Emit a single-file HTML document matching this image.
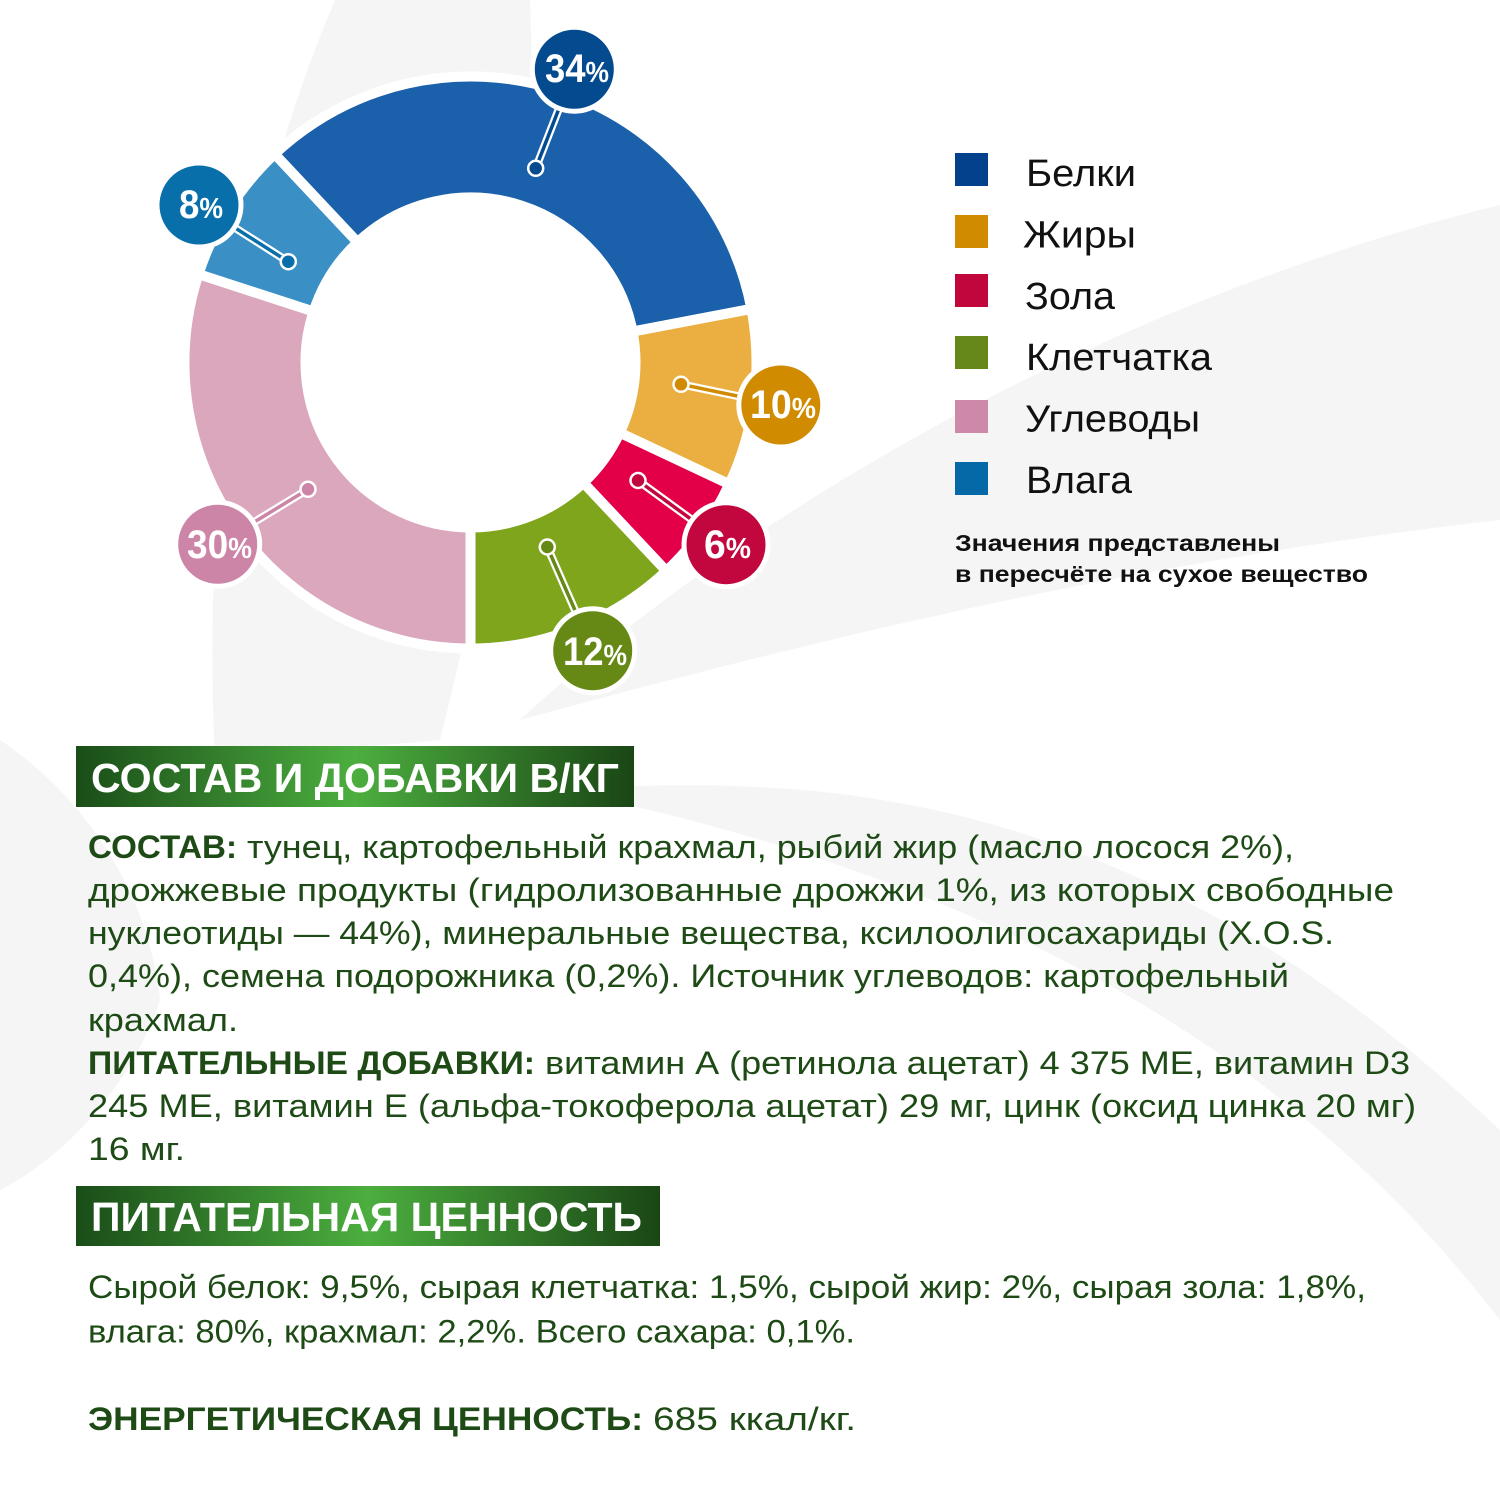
<!DOCTYPE html>
<html><head><meta charset="utf-8"><style>
html,body{margin:0;padding:0;background:#fff;}
svg{display:block;}
text{font-family:"Liberation Sans","Noto Sans CJK SC",sans-serif;}
</style></head><body>
<svg width="1500" height="1500" viewBox="0 0 1500 1500" xmlns="http://www.w3.org/2000/svg">
<defs>
<linearGradient id="hg" x1="0" y1="0" x2="1" y2="0">
<stop offset="0" stop-color="#1a4d18"/><stop offset="0.5" stop-color="#4cae3f"/><stop offset="1" stop-color="#1a4615"/>
</linearGradient>
</defs>
<rect width="1500" height="1500" fill="#fff"/>
<!-- background leaves -->
<g fill="#f5f5f5">
<path d="M335 0 L530 0 C540 250 500 500 440 740 L215 760 C200 450 250 200 335 0 Z"/>
<path d="M0 740 C90 800 150 900 160 1000 C130 1090 60 1160 0 1190 Z"/>
<path d="M520 720 C780 480 1150 290 1500 205 L1500 520 C1150 560 850 630 520 720 Z"/>
<path d="M560 790 C850 770 1150 800 1500 1130 L1500 1320 C1300 1060 1000 880 560 790 Z"/>
</g>
<!-- donut halo -->
<circle cx="470.5" cy="362.5" r="291" fill="#fff"/>
<g stroke="#fff" stroke-width="10" stroke-linejoin="miter">
<path fill="#dba7bd" d="M470.5 648.5 A286 286 0 0 1 198.5 274.1 L313.57 311.51 A165 165 0 0 0 470.5 527.5 Z"/>
<path fill="#3a90c5" d="M198.5 274.1 A286 286 0 0 1 274.72 154.01 L357.55 242.22 A165 165 0 0 0 313.57 311.51 Z"/>
<path fill="#1a60aa" d="M274.72 154.01 A286 286 0 0 1 751.43 308.91 L632.58 331.58 A165 165 0 0 0 357.55 242.22 Z"/>
<path fill="#eaae41" d="M751.43 308.91 A286 286 0 0 1 729.28 484.27 L619.8 432.75 A165 165 0 0 0 632.58 331.58 Z"/>
<path fill="#e30048" d="M729.28 484.27 A286 286 0 0 1 666.28 570.99 L583.45 482.78 A165 165 0 0 0 619.8 432.75 Z"/>
<path fill="#7fa51c" d="M666.28 570.99 A286 286 0 0 1 470.5 648.5 L470.5 527.5 A165 165 0 0 0 583.45 482.78 Z"/>
</g>
<!-- connectors -->
<g stroke="#fff" stroke-width="8" stroke-linecap="round">
<line x1="535.7" y1="168.3" x2="574.3" y2="69.3"/>
<line x1="288.3" y1="261.7" x2="199" y2="205"/>
<line x1="681" y1="384.3" x2="780.8" y2="405"/>
<line x1="638" y1="480.5" x2="726" y2="544.7"/>
<line x1="308" y1="489.3" x2="217.7" y2="544.3"/>
<line x1="547.3" y1="547" x2="592.7" y2="650.7"/>
</g>
<g stroke-width="3.5">
<line x1="535.7" y1="168.3" x2="574.3" y2="69.3" stroke="#034a8f"/>
<line x1="288.3" y1="261.7" x2="199" y2="205" stroke="#086fab"/>
<line x1="681" y1="384.3" x2="780.8" y2="405" stroke="#d08b00"/>
<line x1="638" y1="480.5" x2="726" y2="544.7" stroke="#c1073d"/>
<line x1="308" y1="489.3" x2="217.7" y2="544.3" stroke="#cc85a7"/>
<line x1="547.3" y1="547" x2="592.7" y2="650.7" stroke="#668814"/>
</g>
<g stroke="#fff" stroke-width="2.5">
<circle cx="535.7" cy="168.3" r="7.5" fill="#034a8f"/>
<circle cx="288.3" cy="261.7" r="7.5" fill="#086fab"/>
<circle cx="681" cy="384.3" r="7.5" fill="#d08b00"/>
<circle cx="638" cy="480.5" r="7.5" fill="#c1073d"/>
<circle cx="308" cy="489.3" r="7.5" fill="#cc85a7"/>
<circle cx="547.3" cy="547" r="7.5" fill="#668814"/>
</g>
<!-- label circles -->
<g stroke="#fff" stroke-width="5">
<circle cx="574.3" cy="69.3" r="42" fill="#034a8f"/>
<circle cx="199" cy="205" r="42" fill="#086fab"/>
<circle cx="780.8" cy="405" r="42" fill="#d08b00"/>
<circle cx="726" cy="544.7" r="42" fill="#c1073d"/>
<circle cx="217.7" cy="544.3" r="42" fill="#cc85a7"/>
<circle cx="592.7" cy="650.7" r="42" fill="#668814"/>
</g>
<g fill="#fff" font-weight="bold">
<text x="545" y="82" textLength="64" lengthAdjust="spacingAndGlyphs" font-size="40">34<tspan font-size="29">%</tspan></text>
<text x="179" y="218" textLength="44" lengthAdjust="spacingAndGlyphs" font-size="40">8<tspan font-size="29">%</tspan></text>
<text x="750" y="418" textLength="66" lengthAdjust="spacingAndGlyphs" font-size="40">10<tspan font-size="29">%</tspan></text>
<text x="704" y="558" textLength="47" lengthAdjust="spacingAndGlyphs" font-size="40">6<tspan font-size="29">%</tspan></text>
<text x="187" y="558" textLength="65" lengthAdjust="spacingAndGlyphs" font-size="40">30<tspan font-size="29">%</tspan></text>
<text x="563" y="665" textLength="64" lengthAdjust="spacingAndGlyphs" font-size="40">12<tspan font-size="29">%</tspan></text>
</g>
<!-- legend -->
<rect x="955" y="153" width="33" height="33" fill="#03418c"/>
<rect x="955" y="215" width="33" height="33" fill="#d18b00"/>
<rect x="955" y="274" width="33" height="33" fill="#c1063c"/>
<rect x="955" y="336" width="33" height="33" fill="#658818"/>
<rect x="955" y="400" width="33" height="33" fill="#cd89a8"/>
<rect x="955" y="462" width="33" height="33" fill="#0569a8"/>
<g fill="#111" font-size="38">
<text x="1026" y="186" textLength="110" lengthAdjust="spacingAndGlyphs">Белки</text>
<text x="1023" y="247.5" textLength="113" lengthAdjust="spacingAndGlyphs">Жиры</text>
<text x="1025" y="309" textLength="90" lengthAdjust="spacingAndGlyphs">Зола</text>
<text x="1026" y="370" textLength="186" lengthAdjust="spacingAndGlyphs">Клетчатка</text>
<text x="1025" y="431.5" textLength="175" lengthAdjust="spacingAndGlyphs">Углеводы</text>
<text x="1026" y="493" textLength="106" lengthAdjust="spacingAndGlyphs">Влага</text>
</g>
<g fill="#111" font-size="23" font-weight="bold">
<text x="955" y="551" textLength="325" lengthAdjust="spacingAndGlyphs">Значения представлены</text>
<text x="955" y="582" textLength="413" lengthAdjust="spacingAndGlyphs">в пересчёте на сухое вещество</text>
</g>
<!-- headers -->
<rect x="76" y="746" width="558" height="61" fill="url(#hg)"/>
<text x="91" y="792" fill="#fff" font-size="41" font-weight="bold" textLength="528" lengthAdjust="spacingAndGlyphs">СОСТАВ И ДОБАВКИ В/КГ</text>
<rect x="76" y="1186" width="584" height="60" fill="url(#hg)"/>
<text x="91" y="1231" fill="#fff" font-size="41" font-weight="bold" textLength="551" lengthAdjust="spacingAndGlyphs">ПИТАТЕЛЬНАЯ ЦЕННОСТЬ</text>
<!-- body -->
<g fill="#1d4a15" font-size="32">
<text x="88" y="858" font-weight="bold" textLength="149" lengthAdjust="spacingAndGlyphs">СОСТАВ:</text>
<text x="247" y="858" textLength="1047" lengthAdjust="spacingAndGlyphs">тунец, картофельный крахмал, рыбий жир (масло лосося 2%),</text>
<text x="88" y="901" textLength="1306" lengthAdjust="spacingAndGlyphs">дрожжевые продукты (гидролизованные дрожжи 1%, из которых свободные</text>
<text x="88" y="944" textLength="1246" lengthAdjust="spacingAndGlyphs">нуклеотиды — 44%), минеральные вещества, ксилоолигосахариды (X.O.S.</text>
<text x="88" y="987" textLength="1201" lengthAdjust="spacingAndGlyphs">0,4%), семена подорожника (0,2%). Источник углеводов: картофельный</text>
<text x="88" y="1031" textLength="150" lengthAdjust="spacingAndGlyphs">крахмал.</text>
<text x="88" y="1074" font-weight="bold" textLength="447" lengthAdjust="spacingAndGlyphs">ПИТАТЕЛЬНЫЕ ДОБАВКИ:</text>
<text x="545" y="1074" textLength="865" lengthAdjust="spacingAndGlyphs">витамин А (ретинола ацетат) 4 375 МЕ, витамин D3</text>
<text x="88" y="1117" textLength="1328" lengthAdjust="spacingAndGlyphs">245 МЕ, витамин Е (альфа-токоферола ацетат) 29 мг, цинк (оксид цинка 20 мг)</text>
<text x="88" y="1160" textLength="97" lengthAdjust="spacingAndGlyphs">16 мг.</text>
<text x="88" y="1298" textLength="1278" lengthAdjust="spacingAndGlyphs">Сырой белок: 9,5%, сырая клетчатка: 1,5%, сырой жир: 2%, сырая зола: 1,8%,</text>
<text x="88" y="1342.5" textLength="767" lengthAdjust="spacingAndGlyphs">влага: 80%, крахмал: 2,2%. Всего сахара: 0,1%.</text>
<text x="88" y="1430" font-weight="bold" textLength="555" lengthAdjust="spacingAndGlyphs">ЭНЕРГЕТИЧЕСКАЯ ЦЕННОСТЬ:</text>
<text x="653" y="1430" textLength="203" lengthAdjust="spacingAndGlyphs">685 ккал/кг.</text>
</g>
</svg>
</body></html>
